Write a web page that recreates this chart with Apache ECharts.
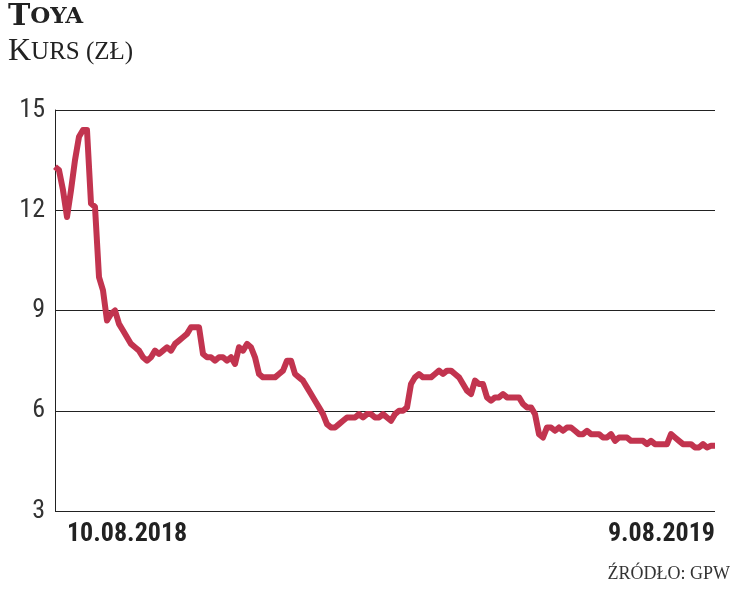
<!DOCTYPE html>
<html>
<head>
<meta charset="utf-8">
<script src="https://cdn.jsdelivr.net/npm/echarts@6/dist/echarts.min.js"></script>
<style>html,body{margin:0;padding:0;background:#fff}#main{width:740px;height:593px}</style>
</head>
<body>
<div id="main"></div>
<script>
var prices = [
13.3,13.2,12.6,11.8,12.6,13.5,14.2,14.4,14.4,12.2,12.1,10.0,9.6,8.7,8.9,9.0,8.6,8.4,8.2,8.0,
7.9,7.8,7.6,7.5,7.6,7.8,7.7,7.8,7.9,7.8,8.0,8.1,8.2,8.3,8.5,8.5,8.5,7.7,7.6,7.6,
7.5,7.6,7.6,7.5,7.6,7.4,7.9,7.8,8.0,7.9,7.6,7.1,7.0,7.0,7.0,7.0,7.1,7.2,7.5,7.5,
7.1,7.0,6.9,6.7,6.5,6.3,6.1,5.9,5.6,5.5,5.5,5.6,5.7,5.8,5.8,5.8,5.9,5.8,5.9,5.9,
5.8,5.8,5.9,5.8,5.7,5.9,6.0,6.0,6.1,6.8,7.0,7.1,7.0,7.0,7.0,7.1,7.2,7.1,7.2,7.2,
7.1,7.0,6.8,6.6,6.5,6.9,6.8,6.8,6.4,6.3,6.4,6.4,6.5,6.4,6.4,6.4,6.4,6.2,6.1,6.1,
5.9,5.3,5.2,5.5,5.5,5.4,5.5,5.4,5.5,5.5,5.4,5.3,5.3,5.4,5.3,5.3,5.3,5.2,5.2,5.3,
5.1,5.2,5.2,5.2,5.1,5.1,5.1,5.1,5.0,5.1,5.0,5.0,5.0,5.0,5.3,5.2,5.1,5.0,5.0,5.0,
4.9,4.9,5.0,4.9,4.95,4.95
];
var firstDate = '10.08.2018';
var lastDate = '9.08.2019';
var dates = prices.map(function (v, i) {
  return i === 0 ? firstDate : (i === prices.length - 1 ? lastDate : '');
});
var yTicks = [3, 6, 9, 12, 15];

var myChart = echarts.init(document.getElementById('main'));
var font = '"Liberation Sans Narrow", "Roboto Condensed", "Liberation Sans", sans-serif';
var option = {
  backgroundColor: '#fff',
  animation: false,
  grid: { left: 55, right: 25, top: 110, bottom: 82 },
  graphic: [
    { type: 'text', left: 8, top: 2, style: {
      text: '{a|T}{b|OYA}', rich: {
        a: { fontSize: 30, fontWeight: 'bold', fontFamily: 'DejaVu Serif', fill: '#222' },
        b: { fontSize: 23, fontWeight: 'bold', fontFamily: 'DejaVu Serif', fill: '#222' } } } },
    { type: 'text', left: 8, top: 36, style: {
      text: '{a|K}{b|URS (ZŁ)}', rich: {
        a: { fontSize: 32, fontFamily: 'Liberation Serif', fill: '#222' },
        b: { fontSize: 25, fontFamily: 'Liberation Serif', fill: '#222' } } } },
    { type: 'text', right: 10, top: 565, style: {
      text: 'ŹRÓDŁO: GPW', fontSize: 18, fontFamily: 'Liberation Serif', fill: '#333' } }
  ],
  xAxis: {
    type: 'category', data: dates, boundaryGap: false,
    axisLine: { show: false }, axisTick: { show: false },
    axisLabel: { interval: 0, alignMinLabel: 'left', alignMaxLabel: 'right', margin: 10,
      fontSize: 26, fontWeight: 'bold', color: '#222', fontFamily: font,
      formatter: function (v, i) { return i === 0 ? '  ' + v : v; } }
  },
  yAxis: {
    type: 'value', min: yTicks[0], max: yTicks[yTicks.length - 1], interval: 3,
    axisLine: { show: true, lineStyle: { color: '#222', width: 1 } },
    axisTick: { show: false },
    axisLabel: { fontSize: 26, color: '#333', fontFamily: font, margin: 10,
      formatter: function (v) { return yTicks.indexOf(v) >= 0 ? String(v) : ''; } },
    splitLine: { lineStyle: { color: '#222', width: 1 } }
  },
  series: [{
    type: 'line', data: prices, symbol: 'none',
    lineStyle: { color: '#c2344f', width: 6, join: 'round' }
  }]
};
myChart.setOption(option);
</script>
</body>
</html>
